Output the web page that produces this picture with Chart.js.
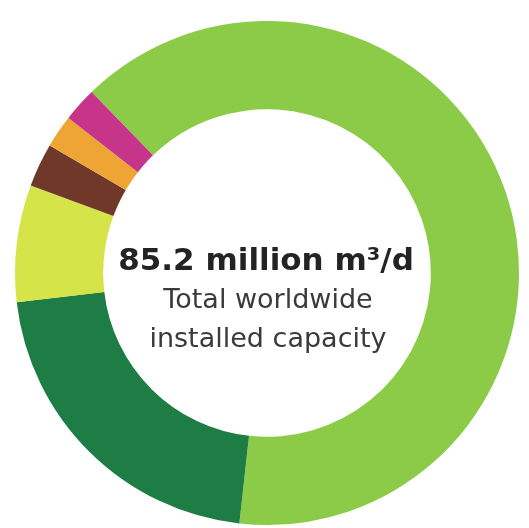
<!DOCTYPE html>
<html>
<head>
<meta charset="utf-8">
<script src="https://cdn.jsdelivr.net/npm/chart.js@4"></script>
<style>
  html,body{margin:0;padding:0;background:#fff;}
  #wrap{width:529px;height:528px;position:relative;}
</style>
</head>
<body>
<div id="wrap"><canvas id="chart1"></canvas></div>
<script>
// share of installed capacity (%)
const categories = ['Reverse osmosis', 'MSF', 'MED', 'Electrodialysis', 'Nanofiltration', 'Other'];
const shares = [64.0, 21.4, 7.5, 2.8, 2.1, 2.2];
const sliceColors = ['#8ccb48', '#1e7d45', '#d5e449', '#703828', '#eea534', '#c6358a'];
const centerLines = ['85.2 million m³/d', 'Total worldwide', 'installed capacity'];

const centerText = {
  id: 'centerText',
  afterDraw(chart) {
    const ctx = chart.ctx;
    const arc = chart.getDatasetMeta(0).data[0];
    const x = arc.x, y = arc.y;
    ctx.save();
    ctx.textAlign = 'center';
    ctx.textBaseline = 'alphabetic';
    ctx.fillStyle = '#232323';
    ctx.font = 'bold 31px "DejaVu Sans"';
    ctx.fillText(centerLines[0], x - 1, y - 3);
    ctx.fillStyle = '#3a3a3a';
    ctx.font = '27px "DejaVu Sans"';
    ctx.fillText(centerLines[1], x + 1, y + 35);
    ctx.fillText(centerLines[2], x + 1, y + 74);
    ctx.restore();
  }
};

const ctx1 = document.getElementById('chart1').getContext('2d');
const myChart1 = new Chart(ctx1, {
  type: 'doughnut',
  data: {
    labels: categories,
    datasets: [{
      data: shares,
      backgroundColor: sliceColors,
      borderWidth: 0,
      hoverOffset: 0
    }]
  },
  options: {
    responsive: true,
    maintainAspectRatio: false,
    animation: false,
    rotation: 315.9,
    cutout: '65%',
    layout: {
      padding: {left: 15, right: 10, top: 21, bottom: 3}
    },
    plugins: {
      legend: {display: false},
      tooltip: {enabled: false}
    }
  },
  plugins: [centerText]
});
</script>
</body>
</html>
